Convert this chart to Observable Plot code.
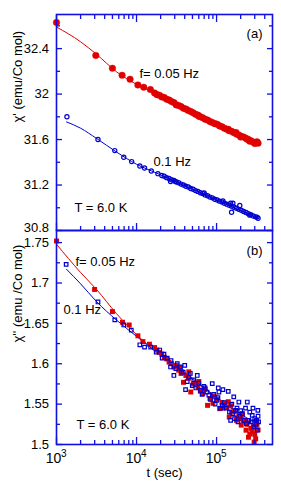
<!DOCTYPE html>
<html><head><meta charset="utf-8">
<script src="https://cdn.jsdelivr.net/npm/d3@7"></script>
<script src="https://cdn.jsdelivr.net/npm/@observablehq/plot@0.6"></script>
<style>
body{margin:0;background:#fff;}
#chart{width:281px;}
#chart svg{display:block;overflow:visible;}
</style></head><body><div id="chart"></div>
<script>
// ---- data ----
const xMajor = [1e3, 1e4, 1e5];
const xExp = ["3", "4", "5"];
const xMinor = [2000,3000,4000,5000,6000,7000,8000,9000,20000,30000,40000,50000,60000,70000,80000,90000,200000,300000,400000];
const yMajorA = [30.8, 31.2, 31.6, 32, 32.4];
const yMinorA = [31.0, 31.4, 31.8, 32.2, 32.6];
const yMajorB = [1.5, 1.55, 1.6, 1.65, 1.7, 1.75];
const yMinorB = [1.525, 1.575, 1.625, 1.675, 1.725];

// panel (a): chi' , f = 0.05 Hz (filled circles) and 0.1 Hz (open circles)  [t (sec), value]
const redA = [
[1000,32.63],[3100,32.34],[5000,32.227],[6600,32.165],[8300,32.13],[10400,32.08],[12300,32.06],[14900,32.04],
[16800,32.01],[18000,31.995],[19300,31.99],[20700,31.975],[22200,31.97],[23800,31.955],[25500,31.948],[27300,31.935],
[29300,31.925],[31400,31.905],[33600,31.9],[36000,31.89],[38600,31.875],[41400,31.868],[44400,31.855],[47600,31.847],
[51000,31.835],[54600,31.822],[58500,31.815],[62700,31.8],[67200,31.792],[72000,31.778],[77200,31.772],[82700,31.758],
[88600,31.75],[95000,31.74],[101800,31.735],[109100,31.72],[116900,31.712],[125300,31.7],[134300,31.69],[143900,31.678],
[154200,31.672],[165300,31.66],[177100,31.648],[189800,31.64],[203400,31.628],[218000,31.622],[233600,31.61],[250300,31.6],
[268300,31.59],[287500,31.578],[308100,31.572],[330000,31.568],
[60000,31.805],[140000,31.69],[200000,31.622],[260000,31.585],[300000,31.565],[320000,31.58],[245000,31.6],[175000,31.662]
];
const blueA = [
[1350,31.80],[3300,31.60],[5350,31.503],[6930,31.444],[8700,31.406],[11000,31.368],[12600,31.35],[15300,31.324],[18500,31.30],
[20700,31.284],[22200,31.277],[23800,31.265],[25500,31.258],[27300,31.246],[29300,31.24],[31400,31.227],[33600,31.22],
[36000,31.208],[38600,31.2],[41400,31.189],[44400,31.182],[47600,31.17],[51000,31.163],[54600,31.151],[58500,31.144],
[62700,31.132],[67200,31.125],[72000,31.113],[77200,31.106],[82700,31.094],[88600,31.087],[95000,31.075],[101800,31.068],
[109100,31.058],[116900,31.05],[125300,31.04],[134300,31.032],[143900,31.022],[154200,31.014],[165300,31.004],[177100,30.996],
[189800,30.986],[203400,30.978],[218000,30.967],[233600,30.958],[250300,30.947],[268300,30.94],[287500,30.928],[308100,30.92],
[330000,30.908],
[26600,31.23],[30600,31.232],[154000,30.96],[160000,31.04],[195000,31.02],[150000,31.04],[70000,31.13],[120000,31.06],[260000,30.935],[320000,30.918]
];
const tFitRed = [1000,2000,3162,5623,10000,17783,31623,56234,100000,177828,334965];
const tFitBlue = [1334,2000,3162,5623,10000,17783,31623,56234,100000,177828,334965];
const fitRedA = [32.59,32.46,32.35,32.196,32.086,32.0,31.905,31.818,31.74,31.655,31.572];
const fitBlueA = [31.755,31.70,31.61,31.49,31.383,31.305,31.225,31.148,31.07,30.99,30.905];

// panel (b): chi''  [t (sec), value]
const redB = [
[1000,1.752],[2990,1.692],[5000,1.6646],[6680,1.6514],[8100,1.648],[10400,1.6346],[12000,1.6275],[14500,1.6242],
[16800,1.62],[18000,1.617],[19300,1.614],[20700,1.612],[22200,1.608],[23800,1.606],[25500,1.602],[27300,1.6],
[29300,1.596],[31400,1.598],[33600,1.592],[36000,1.588],[38600,1.577],[41400,1.5855],[44400,1.582],[47600,1.565],
[51000,1.575],[54600,1.576],[58500,1.571],[62700,1.566],[67200,1.563],[72000,1.568],[77200,1.5485],[82700,1.557],
[88600,1.56],[95000,1.559],[101800,1.556],[109100,1.5444],[116900,1.552],[125300,1.5506],[134300,1.546],[143900,1.534],
[154200,1.54],[165300,1.541],[177100,1.53],[189800,1.536],[203400,1.524],[218000,1.528],[233600,1.5177],[250300,1.509],
[268300,1.52],[287500,1.522],[308100,1.507],[330000,1.518],
[150000,1.548],[180000,1.533],[200000,1.532],[240000,1.525],[260000,1.513],[300000,1.5125],[320000,1.525],[280000,1.516],
[210000,1.538],[120000,1.545],[90000,1.551],[60000,1.578],[45000,1.59],[35000,1.595],[140000,1.553],[230000,1.53],
[295000,1.503],[310000,1.529]
];
const blueB = [
[1320,1.723],[3300,1.6765],[5350,1.6543],[6930,1.648],[8600,1.6415],[11000,1.6235],[12600,1.6205],[15000,1.6205],[17600,1.6143],
[19500,1.617],[20900,1.607],[24200,1.607],[26600,1.596],[29300,1.5855],[32300,1.6],[35500,1.596],[38300,1.5897],[41000,1.568],
[45100,1.5835],[49700,1.573],[57400,1.5855],[63100,1.567],[69400,1.572],[80100,1.561],[88300,1.5753],[100000,1.5547],
[107000,1.565],[118000,1.5485],[140000,1.5658],[150000,1.53],[164000,1.559],[173000,1.5423],[190000,1.5526],[210000,1.538],
[242000,1.5526],[253000,1.53],[279000,1.536],[293000,1.5217],[316000,1.53],[328000,1.5423],[323000,1.5177],
[22000,1.612],[27000,1.604],[31000,1.594],[36500,1.59],[40000,1.598],[43000,1.578],[47000,1.588],[52000,1.58],[55000,1.57],
[60000,1.576],[66000,1.562],[72000,1.57],[76000,1.565],[84000,1.556],[92000,1.562],[96000,1.55],[104000,1.558],[112000,1.545],
[125000,1.552],[132000,1.545],[145000,1.54],[155000,1.55],[160000,1.538],[168000,1.532],[180000,1.545],[185000,1.528],
[195000,1.535],[200000,1.542],[220000,1.53],[230000,1.545],[236000,1.526],[260000,1.54],[270000,1.528],[285000,1.545],
[300000,1.532],[310000,1.525],[330000,1.535],[335000,1.528],[120000,1.568],[105000,1.57]
];
const fitRedB = [1.748,1.713,1.692,1.662,1.636,1.615,1.597,1.578,1.558,1.540,1.520];
const fitBlueB = [1.717,1.699,1.677,1.654,1.634,1.614,1.5955,1.577,1.5585,1.541,1.524];

const labelsA = {panel: "(a)", f1: "f= 0.05 Hz", f2: "0.1 Hz", temp: "T = 6.0 K", ytitle: "χ' (emu/Co mol)"};
const labelsB = {panel: "(b)", f1: "f= 0.05 Hz", f2: "0.1 Hz", temp: "T = 6.0 K", ytitle: "χ'' (emu /Co mol)", xtitle: "t (sec)"};

// ---- styles ----
const RED = "#e00000", BLUE = "#0000d0", FRAME = "#1010e0";
const SANS = "'Liberation Sans', Arial, Helvetica, sans-serif";
const NARROW = "'Liberation Sans Narrow', 'Liberation Sans', Arial, sans-serif";
const xDomain = [1000, 500000];

function pairs(ts, vs) { return ts.map((t, i) => ({t, v: vs[i]})); }
const P = arr => arr.map(([t, v]) => ({t, v}));

function yAxes(major, minor, bottomLift) {
  const out = [];
  for (const anchor of ["left", "right"]) {
    out.push(Plot.axisY({anchor, ticks: major, tickSize: -6, tickFormat: () => "", stroke: FRAME, strokeWidth: 1.3, label: null}));
    out.push(Plot.axisY({anchor, ticks: minor, tickSize: -4, tickFormat: () => "", stroke: FRAME, strokeWidth: 1.3, label: null}));
  }
  const rest = bottomLift ? major.slice(1) : major;
  out.push(Plot.axisY({anchor: "left", ticks: rest, tickSize: 0, tickPadding: 7.5, tickFormat: d => String(d),
    fontFamily: NARROW, fontSize: 13, fill: "black", label: null}));
  if (bottomLift) {
    out.push(Plot.axisY({anchor: "left", ticks: major.slice(0, 1), tickSize: 0, tickPadding: 7.5, dy: -bottomLift, tickFormat: d => String(d),
      fontFamily: NARROW, fontSize: 13, fill: "black", label: null}));
  }
  return out;
}
function xAxes(anchors) {
  const out = [];
  for (const anchor of anchors) {
    out.push(Plot.axisX({anchor, ticks: xMajor, tickSize: -7, tickFormat: () => "", stroke: FRAME, strokeWidth: 1.3, label: null}));
    out.push(Plot.axisX({anchor, ticks: xMinor, tickSize: -4, tickFormat: () => "", stroke: FRAME, strokeWidth: 1.3, label: null}));
  }
  return out;
}
function note(txt, anchor, dx, dy, textAnchor = "start") {
  return Plot.text([txt], {frameAnchor: anchor, dx, dy, textAnchor, lineAnchor: "middle", fontSize: 13, fontFamily: SANS, fill: "black"});
}

const plotA = Plot.plot({
  width: 281, height: 230,
  marginTop: 14, marginBottom: 0, marginLeft: 56, marginRight: 9,
  style: {fontFamily: SANS, fontSize: "13px", background: "transparent", overflow: "visible"},
  x: {type: "log", domain: xDomain},
  y: {domain: [30.8, 32.7]},
  marks: [
    Plot.line(pairs(tFitRed, fitRedA), {x: "t", y: "v", stroke: RED, strokeWidth: 1, curve: "monotone-x"}),
    Plot.line(pairs(tFitBlue, fitBlueA), {x: "t", y: "v", stroke: BLUE, strokeWidth: 1, curve: "monotone-x"}),
    Plot.dot(P(redA), {x: "t", y: "v", r: 3.3, fill: RED, stroke: RED, strokeWidth: 0.4}),
    Plot.dot(P(blueA), {x: "t", y: "v", r: 2.1, fill: "none", stroke: BLUE, strokeWidth: 1.2}),
    ...yAxes(yMajorA, yMinorA, 2.5),
    ...xAxes(["bottom", "top"]),
    Plot.frame({stroke: FRAME, strokeWidth: 1.6}),
    note(labelsA.panel, "top-right", -10, 19, "end"),
    note(labelsA.f1, "top-left", 83, 59),
    note(labelsA.f2, "top-left", 97, 147),
    note(labelsA.temp, "top-left", 18, 193),
    Plot.text([labelsA.ytitle], {frameAnchor: "left", dx: -39, rotate: -90, lineAnchor: "middle", fontSize: 13, fontFamily: SANS, fill: "black"})
  ]
});

const plotB = Plot.plot({
  width: 281, height: 258,
  marginTop: 0, marginBottom: 44, marginLeft: 56, marginRight: 9,
  style: {fontFamily: SANS, fontSize: "13px", background: "transparent", overflow: "visible"},
  x: {type: "log", domain: xDomain},
  y: {domain: [1.5, 1.765]},
  marks: [
    Plot.line(pairs(tFitRed, fitRedB), {x: "t", y: "v", stroke: RED, strokeWidth: 1, curve: "monotone-x"}),
    Plot.line(pairs(tFitBlue, fitBlueB), {x: "t", y: "v", stroke: BLUE, strokeWidth: 1, curve: "monotone-x"}),
    Plot.dot(P(redB), {x: "t", y: "v", symbol: "square", r: 2.8, fill: RED}),
    Plot.dot(P(blueB), {x: "t", y: "v", symbol: "square", r: 2.0, fill: "none", stroke: BLUE, strokeWidth: 1.2}),
    ...yAxes(yMajorB, yMinorB, 0),
    ...xAxes(["bottom"]),
    Plot.frame({stroke: FRAME, strokeWidth: 1.6}),
    Plot.text(xMajor, {x: d => d, frameAnchor: "bottom", lineAnchor: "middle", text: () => "10", dx: -3, dy: 14, fontFamily: NARROW, fontSize: 14, fill: "black"}),
    Plot.text(xMajor, {x: d => d, frameAnchor: "bottom", lineAnchor: "middle", text: (d, i) => xExp[i], dx: 4.5, dy: 9, textAnchor: "start", fontFamily: NARROW, fontSize: 10, fill: "black"}),
    Plot.text([labelsB.xtitle], {frameAnchor: "bottom", lineAnchor: "middle", dy: 28, fontSize: 13, fontFamily: SANS, fill: "black"}),
    note(labelsB.panel, "top-right", -10, 20, "end"),
    note(labelsB.f1, "top-left", 19, 31),
    note(labelsB.f2, "top-left", 7, 79),
    note(labelsB.temp, "top-left", 20, 194),
    Plot.text([labelsB.ytitle], {frameAnchor: "left", dx: -39, dy: 5, rotate: -90, lineAnchor: "middle", fontSize: 13, fontFamily: SANS, fill: "black"})
  ]
});

document.getElementById("chart").append(plotA, plotB);
</script>
</body></html>
